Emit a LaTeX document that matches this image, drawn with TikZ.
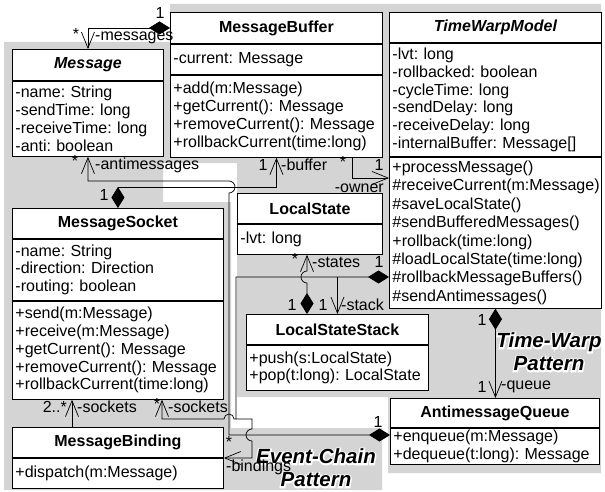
\documentclass[tikz,border=0pt]{standalone}
\usepackage{fontspec}
\setmainfont{Liberation Sans}
\newfontface\halofont{Liberation Sans Bold Italic}[FakeBold=14]
\usetikzlibrary{positioning, arrows.meta, calc}

\definecolor{patgray}{RGB}{212,212,212}
\newcommand{\umlfont}{\fontsize{16pt}{17.8pt}\selectfont\frenchspacing}

\tikzset{
  classname/.style={draw, fill=white, line width=0.9pt, inner sep=0pt, font=\umlfont\bfseries, anchor=north west},
  classpart/.style={draw, fill=white, line width=0.9pt, inner xsep=3pt, inner ysep=0pt, font=\umlfont, align=left},
  lbl/.style={inner sep=0pt, font=\umlfont},
  assoc/.style={line width=0.7pt, -{Straight Barb[length=16pt,width=13pt]}},
  compo/.style={line width=0.7pt, {Diamond[length=21pt,width=13pt]}-{Straight Barb[length=16pt,width=13pt]}},
  patlbl/.style={font=\fontsize{20.5pt}{23pt}\selectfont\bfseries\itshape, align=center, inner sep=0pt},
  patglow/.style={patlbl, font=\fontsize{20.5pt}{23pt}\selectfont\halofont, text=white},
}

\begin{document}
\begin{tikzpicture}[x=1pt, y=-1pt]
    \useasboundingbox (0,0) rectangle (605,492);

    % the two pattern areas
    \fill[patgray] (170,4) -- (601,4) -- (601,473) -- (388,473) -- (388,397) -- (237,397) -- (237,163) -- (170,163) -- cycle;
    \fill[patgray] (4,42) -- (170,42) -- (170,163) -- (163,163) -- (163,202) -- (231,202) -- (231,428) -- (382,428) -- (382,490) -- (4,490) -- cycle;

    % Event-Chain classes
    \node[classname, minimum width=151pt, minimum height=31pt] (msg) at (12,49) {\itshape Message};
    \node[classpart, text width=145pt, minimum height=75pt, below=0pt of msg] (msg-a) {-name: String\\-sendTime: long\\-receiveTime: long\\-anti: boolean};

    \node[classname, minimum width=211pt, minimum height=30pt] (sock) at (12,208) {MessageSocket};
    \node[classpart, text width=205pt, minimum height=61pt, below=0pt of sock] (sock-a) {-name: String\\-direction: Direction\\-routing: boolean};
    \node[classpart, text width=205pt, minimum height=98pt, below=0pt of sock-a] (sock-m) {+send(m:Message)\\+receive(m:Message)\\+getCurrent(): Message\\+removeCurrent(): Message\\+rollbackCurrent(time:long)};

    \node[classname, minimum width=211pt, minimum height=30pt] (mb) at (12,427) {MessageBinding};
    \node[classpart, text width=205pt, minimum height=30pt, below=0pt of mb] (mb-m) {+dispatch(m:Message)};

    % Time-Warp classes
    \node[classname, minimum width=212pt, minimum height=31pt] (buf) at (170,12) {MessageBuffer};
    \node[classpart, text width=206pt, minimum height=30pt, below=0pt of buf] (buf-a) {-current: Message};
    \node[classpart, text width=206pt, minimum height=82pt, below=0pt of buf-a] (buf-m) {+add(m:Message)\\+getCurrent(): Message\\+removeCurrent(): Message\\+rollbackCurrent(time:long)};

    \node[classname, minimum width=212pt, minimum height=30pt] (twm) at (389,12) {\itshape TimeWarpModel};
    \node[classpart, text width=206pt, minimum height=113pt, below=0pt of twm] (twm-a) {-lvt: long\\-rollbacked: boolean\\-cycleTime: long\\-sendDelay: long\\-receiveDelay: long\\-internalBuffer: Message[]};
    \node[classpart, text width=206pt, minimum height=151pt, below=0pt of twm-a, font=\fontsize{16pt}{18.4pt}\selectfont] (twm-m) {+processMessage()\\\#receiveCurrent(m:Message)\\\#saveLocalState()\\\#sendBufferedMessages()\\+rollback(time:long)\\\#loadLocalState(time:long)\\\#rollbackMessageBuffers()\\\#sendAntimessages()};

    \node[classname, minimum width=145pt, minimum height=30pt] (ls) at (237,193) {LocalState};
    \node[classpart, text width=139pt, minimum height=30pt, below=0pt of ls] (ls-a) {-lvt: long};

    \node[classname, minimum width=182pt, minimum height=30pt] (lss) at (246,314) {LocalStateStack};
    \node[classpart, text width=176pt, minimum height=45pt, below=0pt of lss] (lss-m) {+push(s:LocalState)\\+pop(t:long): LocalState};

    \node[classname, minimum width=209pt, minimum height=29pt] (aq) at (390,398) {AntimessageQueue};
    \node[classpart, text width=203pt, minimum height=36pt, below=0pt of aq] (aq-m) {+enqueue(m:Message)\\+dequeue(t:long): Message};

    % routing helpers
    \coordinate (owY) at (0,178);
    \coordinate (antiY) at (0,181);
    \coordinate (busY) at (0,187);
    \coordinate (stY) at (0,277);
    \coordinate (skY) at (0,419);
    \coordinate (amY) at (0,435);
    \coordinate (bdY) at (0,458);
    \coordinate (vA) at (229,0);
    \coordinate (vB) at (236,0);
    \coordinate (vC) at (252,0);
    \coordinate (stX) at (307,0);
    \coordinate (owX) at (352,0);
    \coordinate (skA) at (72,0);
    \coordinate (skB) at (162,0);

    % associations
    \draw[compo] (buf.west) -| (msg.north);
    \draw[compo] (sock.north) -- (sock.north |- busY) -| (buf-m.south);
    \draw[compo] (aq-m.west |- amY) -- (vA |- amY) -- ($(vA |- busY)+(0,6)$) arc[start angle=90, end angle=-90, radius=6] -- (vA |- antiY) -| (msg-a.south);
    \draw[compo] (twm-m.west |- stY) -- (vB |- stY) -- (vB |- skY) -- ($(vA |- skY)+(5,0)$) arc[start angle=0, end angle=-180, radius=5] -- (skB |- skY) -- (skB |- sock-m.south);
    \draw[assoc] (lss.north |- stY) -- (lss.north);
    \draw[compo] (stX |- lss.north) -- ($(stX |- stY)+(0,6)$) arc[start angle=90, end angle=270, radius=6] -- (stX |- ls-a.south);
    \draw[compo] (twm-m.south) -- (twm-m.south |- aq.north);
    \draw[assoc] (owX |- buf-m.south) -- (owX |- owY) -- (twm-m.west |- owY);
    \draw[assoc] (vB |- skY) -- (vC |- skY) -- ($(vC |- amY)+(0,-6)$) arc[start angle=-90, end angle=-270, radius=6] -- (vC |- bdY) -- (mb.east |- bdY);
    \draw[assoc] (skA |- mb.north) -- (skA |- sock-m.south);

    % role names and multiplicities
    \node[lbl] (n-m1) at (160,13) {1};
    \node[lbl] (n-m2) at (76,34) {*};
    \node[lbl, anchor=west] (n-m3) at (95,38) {-messages};
    \node[lbl] (n-a1) at (75,161) {*};
    \node[lbl, anchor=west] (n-a2) at (95,165) {-antimessages};
    \node[lbl] (n-b1) at (104,195) {1};
    \node[lbl] (n-b2) at (263,165) {1};
    \node[lbl, anchor=west] (n-b3) at (281,165) {-buffer};
    \node[lbl] (n-o1) at (343,162) {*};
    \node[lbl] (n-o2) at (379,165) {1};
    \node[lbl, anchor=east] (n-o3) at (384,188) {-owner};
    \node[lbl] (n-s1) at (295,259) {*};
    \node[lbl, anchor=west] (n-s2) at (312,262) {-states};
    \node[lbl] (n-s3) at (379,262) {1};
    \node[lbl] (n-k1) at (292,305) {1};
    \node[lbl] (n-k2) at (323,305) {1};
    \node[lbl, anchor=west] (n-k3) at (341,305) {-stack};
    \node[lbl] (n-q1) at (482,320) {1};
    \node[lbl] (n-q2) at (482,387) {1};
    \node[lbl, anchor=west] (n-q3) at (501,387) {-queue};
    \node[lbl] (n-x1) at (378,422) {1};
    \node[lbl, anchor=east] (n-x2) at (67,407) {2..*};
    \node[lbl, anchor=west] (n-x3) at (77,407) {-sockets};
    \node[lbl] (n-x4) at (157,404) {*};
    \node[lbl, anchor=west] (n-x5) at (168,407) {-sockets};
    \node[lbl] (n-x6) at (229,442) {*};

    % pattern names, white glow under the black text
    \node[patglow] (tw-glow) at (549,352) {Time-Warp\\Pattern};
    \node[patlbl] (tw) at (549,352) {Time-Warp\\Pattern};
    \node[patglow] (ec-glow) at (316,468) {Event-Chain\\Pattern};
    \node[patlbl] (ec) at (316,468) {Event-Chain\\Pattern};
    \node[lbl, anchor=west] (n-x7) at (226,467) {-bindings};
\end{tikzpicture}
\end{document}
